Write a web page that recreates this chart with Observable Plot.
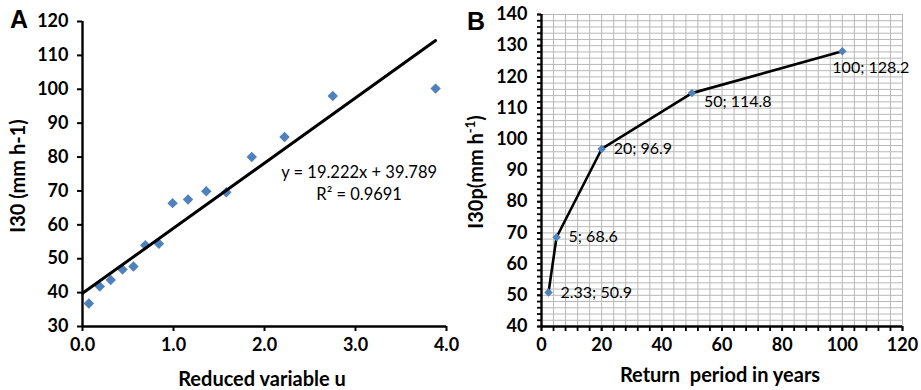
<!DOCTYPE html>
<html><head><meta charset="utf-8">
<script src="https://cdn.jsdelivr.net/npm/d3@7"></script>
<script src="https://cdn.jsdelivr.net/npm/@observablehq/plot@0.6"></script>
<style>
body{margin:0;background:#fff;}
#wrap{width:921px;height:390px;display:flex;overflow:hidden;}
</style></head><body>
<div id="wrap"><div id="a"></div><div id="b"></div></div>
<script>
// Panel A data
const reducedVariableU = [0.07,0.19,0.31,0.44,0.56,0.69,0.84,0.99,1.16,1.36,1.58,1.86,2.22,2.75,3.88];
const i30Values = [36.8,41.8,43.7,46.8,47.7,54.0,54.4,66.4,67.5,69.9,69.6,80.0,85.9,98.0,100.2];
const trendSlope = 19.222;
const trendIntercept = 39.789;
const trendR2 = 0.9691;
const xTicksA = [0,1,2,3,4];
const yTicksA = [30,40,50,60,70,80,90,100,110,120];
// Panel B data
const returnPeriods = [2.33,5,20,50,100];
const i30pValues = [50.9,68.6,96.9,114.8,128.2];
const xTicksB = [0,20,40,60,80,100,120];
const yTicksB = [40,50,60,70,80,90,100,110,120,130,140];

const FONT = "Lato, 'Open Sans', sans-serif";
const BLUE = "#4F81BD";

const dataA = reducedVariableU.map((u,i)=>({u, v:i30Values[i]}));
const uMax = d3.max(reducedVariableU);
const trend = [0, uMax].map(u=>({u, v: trendSlope*u + trendIntercept}));
const eqLines = [
  {t:`y = ${trendSlope}x + ${trendIntercept}`, y:75.4},
  {t:`R² = ${trendR2}`, y:68.9}
];

const plotA = Plot.plot({
  width:460, height:390,
  marginLeft:82, marginRight:14, marginTop:21, marginBottom:64,
  x:{domain:[0,4]}, y:{domain:[30,120]},
  style:{fontFamily:FONT, fontSize:"18px", fontWeight:"bold", color:"#000", background:"#fff", overflow:"visible"},
  marks:[
    Plot.axisY({ticks:yTicksA, tickSize:5, tickPadding:9, label:null, strokeWidth:2}),
    Plot.axisX({ticks:xTicksA, tickSize:5, tickPadding:7, label:null, strokeWidth:2, tickFormat:d=>d.toFixed(1)}),
    Plot.ruleX([0],{strokeWidth:2.4}),
    Plot.ruleY([30],{strokeWidth:2.4}),
    Plot.dot(dataA,{x:"u", y:"v", symbol:"diamond2", r:4.7, fill:BLUE, stroke:"none"}),
    Plot.line(trend,{x:"u", y:"v", stroke:"#000", strokeWidth:3}),
    Plot.text(eqLines,{x:()=>3.04, y:"y", text:"t", fontSize:16.5, fontWeight:"normal", fontFamily:FONT})
  ]
});
document.getElementById("a").append(plotA);

const dataB = returnPeriods.map((p,i)=>({p, v:i30pValues[i], i, label:`${p}; ${i30pValues[i]}`}));

const plotB = Plot.plot({
  width:461, height:390,
  marginLeft:81, marginRight:19, marginTop:14, marginBottom:64,
  x:{domain:[0,120]}, y:{domain:[40,140]},
  style:{fontFamily:FONT, fontSize:"18px", fontWeight:"bold", color:"#000", background:"#fff", overflow:"visible"},
  marks:[
    Plot.gridX({ticks:d3.range(0,121,4), stroke:"#b8b8b8", strokeOpacity:1, strokeWidth:1}),
    Plot.gridY({ticks:d3.range(40,141,2), stroke:"#b8b8b8", strokeOpacity:1, strokeWidth:1}),
    Plot.axisY({ticks:d3.range(40,141,2), tickSize:4, tickFormat:()=> "", label:null, strokeWidth:1.8}),
    Plot.axisX({ticks:d3.range(0,121,4), tickSize:5, tickFormat:()=> "", label:null, strokeWidth:1.8}),
    Plot.axisY({ticks:yTicksB, tickSize:4, tickPadding:10, label:null, strokeWidth:1.8}),
    Plot.axisX({ticks:xTicksB, tickSize:5, tickPadding:7, label:null, strokeWidth:1.8}),
    Plot.ruleX([0],{strokeWidth:2.4}),
    Plot.ruleY([40],{strokeWidth:2.4}),
    Plot.line(dataB,{x:"p", y:"v", stroke:"#000", strokeWidth:2.6}),
    Plot.dot(dataB,{x:"p", y:"v", symbol:"diamond2", r:3.8, fill:BLUE, stroke:"none"}),
    Plot.text(dataB.filter(d=>d.i<3),{x:"p", y:"v", text:"label", textAnchor:"start", dx:12, fontSize:16, fontWeight:"normal"}),
    Plot.text(dataB.filter(d=>d.i===3),{x:"p", y:"v", text:"label", textAnchor:"start", dx:12, dy:9, fontSize:16, fontWeight:"normal"}),
    Plot.text(dataB.filter(d=>d.i===4),{x:"p", y:"v", text:"label", textAnchor:"start", dx:-10, dy:17, fontSize:16, fontWeight:"normal"})
  ]
});
document.getElementById("b").append(plotB);

// panel letters and axis titles
function addText(svg, x, y, txt, opts={}) {
  const t = d3.select(svg).append("text")
    .attr("x", x).attr("y", y)
    .attr("font-family", opts.family || FONT)
    .attr("font-size", opts.size || 20)
    .attr("font-weight", "bold")
    .attr("text-anchor", opts.anchor || "middle")
    .style("white-space", "pre")
    .attr("fill", "#000");
  if (opts.rotate) t.attr("transform", `rotate(-90 ${x} ${y})`);
  t.text(txt);
  return t;
}
addText(plotA, 10, 28, "A", {family:"'Liberation Sans', Arial, sans-serif", size:25, anchor:"start"});
addText(plotA, 262, 386, "Reduced variable u", {size:20});
addText(plotA, 25, 176, "I30 (mm h-1)", {size:20, rotate:true});

addText(plotB, 7, 30, "B", {family:"'Liberation Sans', Arial, sans-serif", size:25, anchor:"start"});
addText(plotB, 260, 382, "Return  period in years", {size:20});
const yl = addText(plotB, 23, 172, "", {size:20, rotate:true});
yl.append("tspan").text("I30p(mm h");
yl.append("tspan").attr("baseline-shift","super").attr("font-size",13).text("-1");
yl.append("tspan").text(")");
</script>
</body></html>
